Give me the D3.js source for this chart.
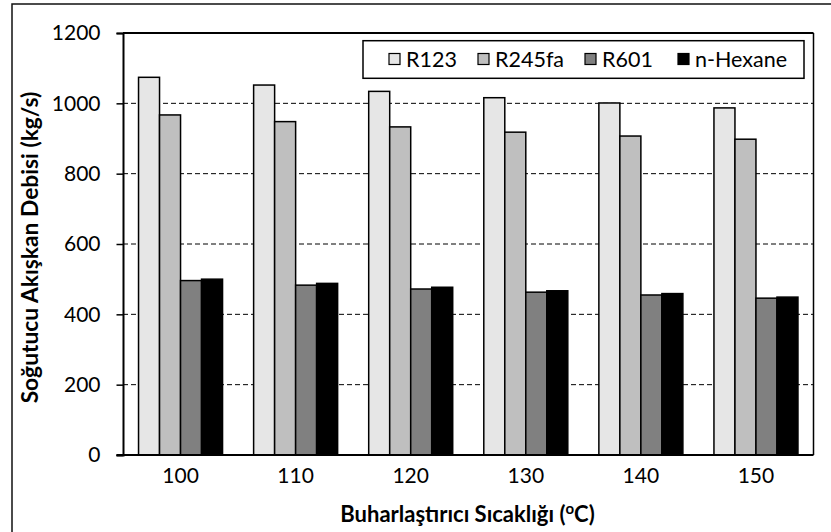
<!DOCTYPE html>
<html>
<head>
<meta charset="utf-8">
<script src="https://cdn.jsdelivr.net/npm/d3@7"></script>
<style>
  html, body { margin: 0; padding: 0; background: #fff; }
  svg { display: block; font-family: Lato, "Open Sans", sans-serif; }
</style>
</head>
<body>
<svg id="chart" width="831" height="532"></svg>
<script>
// Evaporator temperatures (°C)
const categories = ["100", "110", "120", "130", "140", "150"];
// Refrigerant mass flow rate (kg/s) per working fluid
const seriesNames = ["R123", "R245fa", "R601", "n-Hexane"];
const r123    = [1074, 1052, 1034, 1016, 1001, 987];
const r245fa  = [967, 948, 933, 918, 907, 898];
const r601    = [496, 483, 472, 463, 455, 446];
const nHexane = [500, 488, 477, 467, 459, 449];
const yTicks  = [0, 200, 400, 600, 800, 1000, 1200];
const colors  = ["#e6e6e6", "#bfbfbf", "#808080", "#000000"];

const seriesValues = [r123, r245fa, r601, nHexane];

const svg = d3.select("#chart");
const W = 831, H = 532;
const m = { left: 123, top: 33, right: 813.5, bottom: 455 };

// Outer chart border
svg.append("rect")
  .attr("x", 12).attr("y", 4)
  .attr("width", W).attr("height", H)
  .attr("fill", "none").attr("stroke", "#111").attr("stroke-width", 1.5);

const x = d3.scaleBand().domain(categories).range([m.left, m.right])
  .paddingInner(0.27).paddingOuter(0.135);
const xs = d3.scaleBand().domain(seriesNames).range([0, x.bandwidth()]).padding(0);
const y = d3.scaleLinear().domain([0, 1200]).range([m.bottom, m.top]);

// Dashed horizontal gridlines
svg.append("g").selectAll("line")
  .data(yTicks.filter(t => t > 0 && t < 1200))
  .join("line")
  .attr("x1", m.left).attr("x2", m.right)
  .attr("y1", d => y(d)).attr("y2", d => y(d))
  .attr("stroke", "#000").attr("stroke-width", 1)
  .attr("stroke-dasharray", "5,3");

// Bars
const groups = svg.append("g").selectAll("g")
  .data(categories)
  .join("g")
  .attr("transform", d => `translate(${x(d)},0)`);

groups.selectAll("rect")
  .data((c, i) => seriesNames.map((s, k) => ({ s, k, v: seriesValues[k][i] })))
  .join("rect")
  .attr("x", d => xs(d.s))
  .attr("width", xs.bandwidth())
  .attr("y", d => y(d.v))
  .attr("height", d => y(0) - y(d.v))
  .attr("fill", d => colors[d.k])
  .attr("stroke", "#000").attr("stroke-width", 1.5);

// Plot frame: top and right borders
svg.append("line").attr("x1", m.left).attr("x2", m.right)
  .attr("y1", m.top).attr("y2", m.top).attr("stroke", "#000").attr("stroke-width", 2);
svg.append("line").attr("x1", m.right).attr("x2", m.right)
  .attr("y1", m.top).attr("y2", m.bottom).attr("stroke", "#000").attr("stroke-width", 1.5);

// Y axis
const yAxis = svg.append("g")
  .attr("transform", `translate(${m.left},0)`)
  .call(d3.axisLeft(y).tickValues(yTicks).tickSize(6.5).tickPadding(16).tickFormat(d3.format("d")));
yAxis.select(".domain").attr("stroke", "#000").attr("stroke-width", 2);
yAxis.selectAll(".tick line").attr("stroke", "#000").attr("stroke-width", 1.5);
yAxis.selectAll(".tick text")
  .attr("font-family", "Lato, sans-serif").attr("font-size", 21).attr("fill", "#000");

// X axis
const xAxis = svg.append("g")
  .attr("transform", `translate(0,${m.bottom})`)
  .call(d3.axisBottom(x).tickSize(0).tickPadding(13));
xAxis.select(".domain").attr("stroke", "#000").attr("stroke-width", 2)
  .attr("d", `M${m.left - 6.5},0H${m.right}`);
xAxis.selectAll(".tick text")
  .attr("font-family", "Lato, sans-serif").attr("font-size", 21).attr("fill", "#000");

// Axis titles
svg.append("text")
  .attr("transform", "translate(38,247.5) rotate(-90)")
  .attr("text-anchor", "middle")
  .attr("font-weight", "bold").attr("font-size", 22.8)
  .text("Soğutucu Akışkan Debisi (kg/s)");

const xt = svg.append("text")
  .attr("x", 467.5).attr("y", 522)
  .attr("text-anchor", "middle")
  .attr("font-weight", "bold").attr("font-size", 22);
xt.append("tspan").text("Buharlaştırıcı Sıcaklığı (");
xt.append("tspan").attr("dy", -8).attr("font-size", 15).text("o");
xt.append("tspan").attr("dy", 8).text("C)");

// Legend
const legendX = [389, 478, 585, 678];
const lg = svg.append("g");
lg.append("rect")
  .attr("x", 363).attr("y", 40.7).attr("width", 441).attr("height", 37.6)
  .attr("fill", "#fff").attr("stroke", "#000").attr("stroke-width", 1.5);
seriesNames.forEach((name, k) => {
  lg.append("rect")
    .attr("x", legendX[k]).attr("y", 53.5).attr("width", 11).attr("height", 11)
    .attr("fill", colors[k]).attr("stroke", "#000").attr("stroke-width", 1.2);
  lg.append("text")
    .attr("x", legendX[k] + 17).attr("y", 67)
    .attr("font-size", 21.5).attr("fill", "#000")
    .text(name);
});
</script>
</body>
</html>
